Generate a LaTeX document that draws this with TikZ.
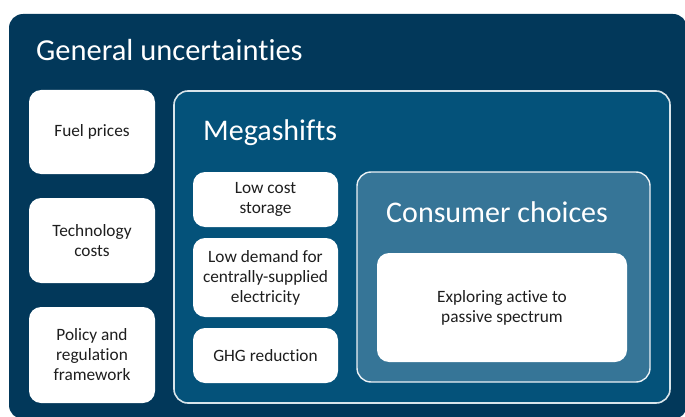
\documentclass[tikz,border=0pt]{standalone}
\usepackage{fontspec}
\setmainfont{Carlito}[Ligatures=NoCommon]
\definecolor{outerblue}{HTML}{02385A}
\definecolor{midblue}{HTML}{04527A}
\definecolor{lightblue}{HTML}{367597}
\definecolor{textgray}{HTML}{1E1E1E}
\begin{document}
\begin{tikzpicture}[x=1pt,y=-1pt,
    panel/.style={inner sep=0pt,rounded corners=14pt},
    wbox/.style={fill=white,inner sep=2pt,rounded corners=12pt,align=center,
      text=textgray,font=\fontsize{17.3}{20}\selectfont},
    heading/.style={anchor=base west,inner sep=0pt,text=white}]
\useasboundingbox (0,0) rectangle (685,417);
% outer panel
\node[panel,fill=outerblue,minimum width=678pt,minimum height=405pt] (general) at (348,216.5) {};
\node[heading,font=\fontsize{30.5}{36}\selectfont] (generaltitle) at (36,61) {General uncertainties};
% left column
\node[wbox,minimum width=126pt,minimum height=84pt] (fuel) at (92,132) {Fuel prices};
\node[wbox,minimum width=126pt,minimum height=85pt] (tech) at (92,240.5) {Technology\\costs};
\node[wbox,minimum width=126pt,minimum height=96pt] (policy) at (92,355) {Policy and\\regulation\\framework};
% megashifts
\node[panel,fill=midblue,draw=white!85!midblue,line width=1.6pt,minimum width=496pt,minimum height=312pt] (mega) at (422,247) {};
\node[heading,font=\fontsize{30}{36}\selectfont] (megatitle) at (203,140) {Megashifts};
\node[wbox,minimum width=145pt,minimum height=55pt] (storage) at (265.5,199.5) {Low cost\\storage};
\node[wbox,minimum width=145pt,minimum height=79pt] (demand) at (265.5,277.5) {Low demand for\\centrally-supplied\\electricity};
\node[wbox,minimum width=145pt,minimum height=55pt] (ghg) at (265.5,355.5) {GHG reduction};
% consumer choices
\node[panel,fill=lightblue,draw=white!90!lightblue,line width=1.4pt,minimum width=293pt,minimum height=210pt] (consumer) at (503.5,277) {};
\node[heading,font=\fontsize{30}{36}\selectfont] (consumertitle) at (386,222) {Consumer choices};
\node[wbox,minimum width=250pt,minimum height=109pt] (spectrum) at (502,307.5) {Exploring active to\\passive spectrum};
\end{tikzpicture}
\end{document}
